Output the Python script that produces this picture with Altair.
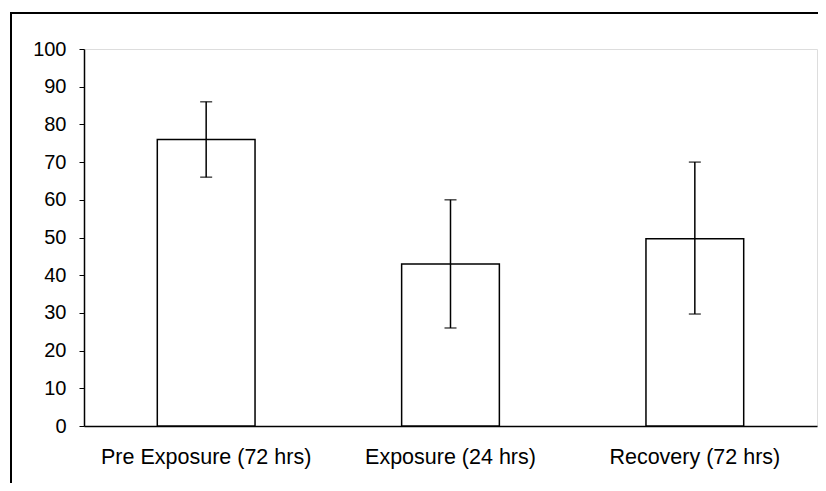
import altair as alt
import pandas as pd

categories = ["Pre Exposure (72 hrs)", "Exposure (24 hrs)", "Recovery (72 hrs)"]
means = [76, 43, 49.7]
lows = [66, 26, 29.7]
highs = [86, 60, 70]

df = pd.DataFrame({"cat": categories, "mean": means, "low": lows, "high": highs})

FONT = "Liberation Sans"

xenc = alt.X("cat:N", sort=categories, title=None,
             scale=alt.Scale(paddingInner=0.6, paddingOuter=0.3),
             axis=alt.Axis(labelAngle=0, ticks=False, labelPadding=20, labelFontSize=21.5))
yscale = alt.Scale(domain=[0, 100])
yaxis = alt.Axis(values=list(range(0, 101, 10)), grid=False, tickSize=5,
                 labelPadding=13, labelFontSize=20, title=None)

base = alt.Chart(df)

frame = alt.Chart(pd.DataFrame({"f": [0]})).mark_rect(
    fill=None, stroke="black", strokeWidth=2, clip=False
).encode(x=alt.value(-73), x2=alt.value(760), y=alt.value(-36), y2=alt.value(460))

bars = base.mark_bar(fill="white", stroke="black", strokeWidth=1.5).encode(
    x=xenc, y=alt.Y("mean:Q", scale=yscale, axis=yaxis)
)
rules = base.mark_rule(color="black", strokeWidth=1.5).encode(
    x=xenc, y=alt.Y("low:Q", scale=yscale, axis=yaxis), y2="high:Q"
)
caps_hi = base.mark_tick(color="black", size=12, thickness=1.5, orient="horizontal").encode(
    x=xenc, y=alt.Y("high:Q", scale=yscale, axis=yaxis)
)
caps_lo = base.mark_tick(color="black", size=12, thickness=1.5, orient="horizontal").encode(
    x=xenc, y=alt.Y("low:Q", scale=yscale, axis=yaxis)
)

chart = alt.layer(frame, bars, rules, caps_hi, caps_lo).properties(
    width=733, height=377,
    padding={"left": 76, "top": 41, "right": 1, "bottom": 57},
    autosize=alt.AutoSizeParams(type="none"),
).configure_view(stroke="#999999", strokeWidth=1).configure(
    background="white"
).configure_axis(
    labelFont=FONT, labelColor="black", labelLimit=0,
    domainColor="black", domainWidth=1.5, tickColor="black"
)

chart.save("out.html", embed_options={"renderer": "svg", "actions": False})
